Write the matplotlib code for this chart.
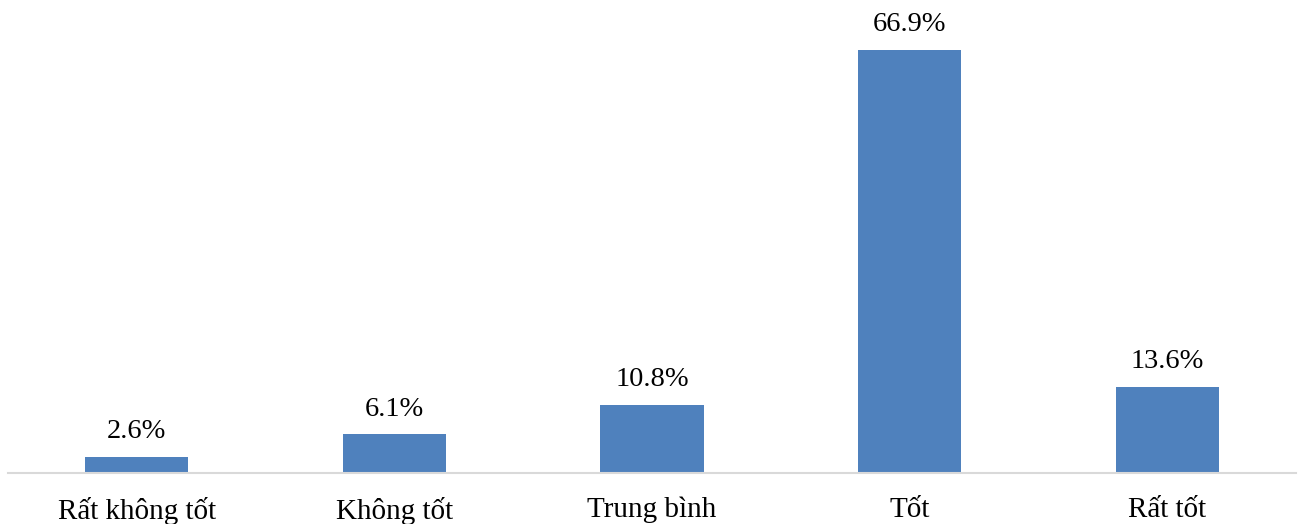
import matplotlib
matplotlib.use("Agg")
import matplotlib.pyplot as plt

categories = ["Rất không tốt", "Không tốt", "Trung bình", "Tốt", "Rất tốt"]
values = [2.6, 6.1, 10.8, 66.9, 13.6]
value_labels = ["2.6%", "6.1%", "10.8%", "66.9%", "13.6%"]

plt.rcParams["font.family"] = ["Liberation Serif", "DejaVu Serif"]

fig = plt.figure(figsize=(12.98, 5.24), dpi=100)
ax = fig.add_axes([8 / 1298, 51 / 524, 1288 / 1298, 473 / 524])

x = range(len(categories))
bars = ax.bar(x, values, width=0.4, color="#4F81BD", zorder=2)

for bar, lab in zip(bars, value_labels):
    ax.annotate(lab, (bar.get_x() + bar.get_width() / 2, bar.get_height()),
                xytext=(0, 9), textcoords="offset points",
                ha="center", va="bottom", fontsize=20.5, color="black")

ax.set_xlim(-0.5, len(categories) - 0.5)
ax.set_ylim(0, 74.8)
ax.set_xticks(list(x))
ax.set_xticklabels(categories, fontsize=21)
ax.tick_params(axis="x", length=0, pad=17)
ax.set_yticks([])
for side in ("top", "left", "right"):
    ax.spines[side].set_visible(False)
ax.spines["bottom"].set_color("#D9D9D9")
ax.spines["bottom"].set_linewidth(1.5)

fig.savefig("out.png", dpi=100)
